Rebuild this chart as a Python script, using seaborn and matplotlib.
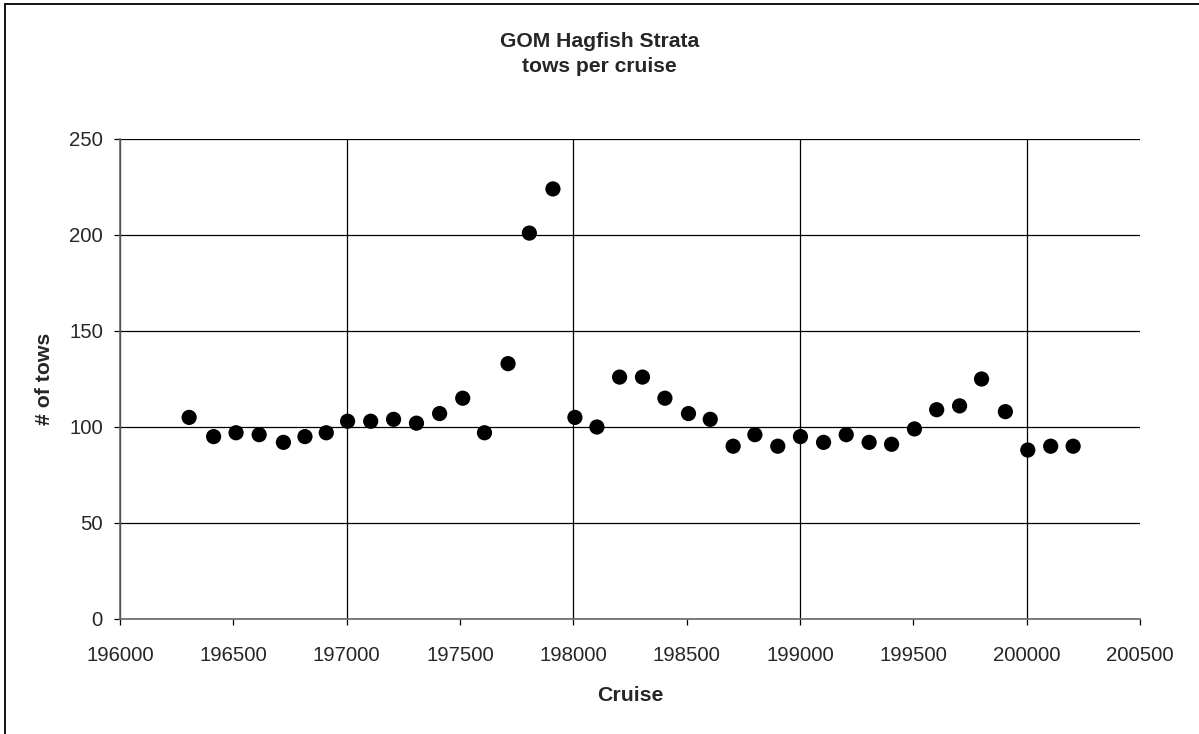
import matplotlib
matplotlib.use("Agg")
import matplotlib.pyplot as plt
import seaborn as sns
import pandas as pd
from matplotlib.lines import Line2D
from matplotlib.ticker import MultipleLocator, FixedLocator, FuncFormatter

cruise = [196305, 196413, 196512, 196614, 196721, 196816, 196910, 197004, 197106, 197207,
          197308, 197410, 197512, 197608, 197712, 197806, 197910, 198007, 198104, 198204,
          198305, 198404, 198508, 198604, 198705, 198801, 198902, 199002, 199104, 199204,
          199305, 199404, 199505, 199603, 199704, 199801, 199906, 200005, 200106, 200205]
tows = [105, 95, 97, 96, 92, 95, 97, 103, 103, 104,
        102, 107, 115, 97, 133, 201, 224, 105, 100, 126,
        126, 115, 107, 104, 90, 96, 90, 95, 92, 96,
        92, 91, 99, 109, 111, 125, 108, 88, 90, 90]

title_lines = ["GOM Hagfish Strata", "tows per cruise"]
x_label = "Cruise"
y_label = "# of tows"

df = pd.DataFrame({"Cruise": cruise, "tows": tows})

sns.set_style("white")
plt.rcParams["font.family"] = ["Liberation Sans", "DejaVu Sans"]

W, H = 1199, 734
fig = plt.figure(figsize=(W / 100, H / 100), dpi=100)
ax = fig.add_axes([120 / W, 1 - 619 / H, (1140 - 120) / W, (619 - 139) / H])

sns.scatterplot(data=df, x="Cruise", y="tows", ax=ax, color="black", s=120,
                edgecolor="none", linewidth=0, zorder=3, clip_on=False)

ax.set_xlim(196000, 200500)
ax.set_ylim(0, 250)
ax.xaxis.set_major_locator(MultipleLocator(1000))
ax.xaxis.set_minor_locator(FixedLocator([196500, 197500, 198500, 199500, 200500]))
ax.xaxis.set_major_formatter(FuncFormatter(lambda v, p: f"{int(v)}"))
ax.xaxis.set_minor_formatter(FuncFormatter(lambda v, p: f"{int(v)}"))
ax.yaxis.set_major_locator(MultipleLocator(50))

ax.grid(True, which="major", axis="both", color="black", linewidth=0.9)
ax.grid(False, which="minor")
ax.set_axisbelow(True)

for side in ["top", "right"]:
    ax.spines[side].set_visible(False)
for side in ["left", "bottom"]:
    ax.spines[side].set_color("#666666")
    ax.spines[side].set_linewidth(1.2)

ax.tick_params(axis="both", which="both", direction="out", length=4.3, width=0.9,
               color="black", labelsize=14.7, bottom=True, left=True)
ax.tick_params(axis="x", which="both", pad=15)
ax.tick_params(axis="y", which="both", pad=8)

ax.set_xlabel(x_label, fontsize=15.3, fontweight="bold")
ax.xaxis.label.set_va("baseline")
ax.xaxis.set_label_coords(0.5, (619 - 701) / 480)
ax.set_ylabel(y_label, fontsize=15.3, fontweight="bold")
ax.yaxis.label.set_va("center")
ax.yaxis.set_label_coords((45 - 120) / 1020, 0.5)

fig.text(0.5, 1 - 47 / H, title_lines[0], ha="center", va="baseline", fontsize=15.2, fontweight="bold")
fig.text(0.5, 1 - 72 / H, title_lines[1], ha="center", va="baseline", fontsize=15.2, fontweight="bold")

# outer chart frame (left and top edges visible)
fig.add_artist(Line2D([5 / W, 5 / W], [0, 1 - 4 / H], transform=fig.transFigure, color="black", linewidth=1.3))
fig.add_artist(Line2D([5 / W, 1], [1 - 4 / H, 1 - 4 / H], transform=fig.transFigure, color="black", linewidth=1.3))

fig.savefig("out.png", dpi=100)
